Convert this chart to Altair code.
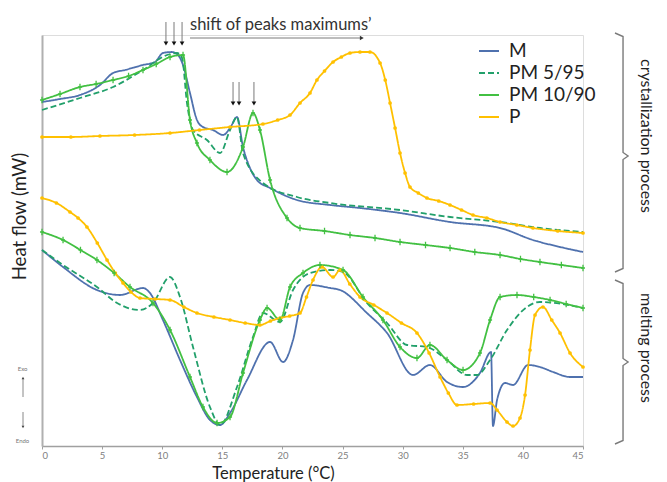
import altair as alt
import pandas as pd

SERIES = ["M", "PM 5/95", "PM 10/90", "P"]
COLORS = ["#4F71AE", "#22A06B", "#42C042", "#FFC000"]
DASHES = [[1, 0], [6, 3], [1, 0], [1, 0]]

# ---- crystallization (cooling) curves: temperature (°C) and heat flow (arbitrary mW offset)
m_cr_t = [0, 1.50, 3.16, 4.82, 5.91, 6.90, 8.40, 9.40, 10.06, 10.81, 11.31, 11.73, 12.31, 12.89,
          13.39, 14.22, 15.06, 15.64, 16.22, 16.72, 17.30, 17.88, 18.97, 21.21, 23.96, 26.45,
          29.78, 33.94, 38.10, 40.84, 43.09, 45.0]
m_cr_h = [34.4, 34.7, 35.1, 36.1, 37.3, 37.6, 38.1, 38.4, 39.3, 39.4, 39.1, 38.1, 35.3, 32.6,
          31.9, 31.6, 31.1, 31.8, 32.9, 29.9, 27.8, 26.6, 25.8, 24.6, 24.1, 23.8,
          23.3, 22.4, 21.8, 20.6, 19.9, 19.4]

pm5_cr_t = [0, 3.16, 5.91, 8.40, 10.40, 11.23, 11.65, 12.06, 12.56, 13.72, 14.81, 15.64, 16.22,
            16.72, 18.38, 21.21, 23.96, 29.78, 33.94, 38.10, 41.42, 45.0]
pm5_cr_h = [33.6, 34.8, 35.9, 37.6, 39.1, 39.3, 38.8, 34.3, 31.6, 30.6, 29.3, 31.6, 32.9,
            29.3, 26.3, 24.9, 24.3, 23.6, 22.9, 22.4, 21.8, 21.4]

pm10_cr_t = [0, 1.5, 3.16, 4.5, 5.91, 7.2, 8.40, 9.5, 10.65, 11.73, 12.31, 12.89, 13.97, 15.39,
             16.72, 17.55, 18.13, 18.97, 20.38, 21.46, 23.5, 25.62, 27.7, 29.78, 31.9, 33.94,
             36.0, 38.10, 39.8, 41.42, 43.2, 45.0]
pm10_cr_h = [34.6, 35.2, 35.9, 36.2, 36.6, 37.0, 37.6, 38.2, 38.9, 39.1, 32.6, 30.3, 28.6, 27.4,
             29.9, 33.3, 31.6, 26.6, 22.8, 21.8, 21.5, 21.1, 20.8, 20.4, 20.1, 19.8,
             19.4, 19.1, 18.7, 18.4, 18.1, 17.8]

p_cr_t = [0, 2.4, 4.82, 7.7, 10.65, 13.1, 15.64, 18.38, 19.6, 20.63, 21.46, 22.29, 22.87, 23.5,
          24.21, 24.9, 25.62, 26.45, 27.28, 28.12, 28.55, 28.95, 29.37, 29.78, 30.2, 30.61,
          31.3, 32.02, 33.0, 33.94, 34.9, 35.85, 37.0, 38.10, 39.5, 40.84, 42.9, 45.0]
p_cr_h = [30.9, 30.9, 31.0, 31.1, 31.3, 31.6, 31.9, 32.2, 32.6, 33.1, 34.3, 35.3, 36.6, 37.5,
          38.4, 38.9, 39.3, 39.4, 39.4, 38.3, 36.6, 34.3, 31.8, 29.3, 27.3, 25.9,
          25.3, 24.8, 24.5, 24.1, 23.6, 23.1, 22.8, 22.4, 22.1, 21.8, 21.5, 21.3]

# ---- melting (heating) curves
m_me_t = [0, 1.75, 4.57, 6.49, 8.40, 8.98, 10.06, 11.48, 12.89, 13.97, 14.81, 15.64, 17.05,
          18.97, 20.05, 20.88, 21.71, 22.29, 23.96, 24.79, 27.03, 28.70, 30.86, 32.27, 33.69,
          35.02, 36.43, 37.35, 37.51, 37.85, 38.51, 39.18, 40.43, 41.42, 42.51, 43.92, 45.0]
m_me_h = [19.6, 17.9, 15.6, 15.1, 15.8, 15.3, 12.6, 8.6, 4.9, 2.6, 2.1, 3.3, 6.6,
          10.4, 8.4, 10.6, 15.3, 16.1, 15.8, 15.6, 13.3, 11.3, 7.1, 8.1, 6.4,
          5.9, 7.3, 9.4, 2.0, 4.6, 6.3, 6.1, 8.1, 7.9, 7.4, 6.9, 6.9]

pm5_me_t = [0, 1.75, 4.57, 6.24, 8.15, 9.23, 10.65, 11.48, 12.56, 13.97, 14.81, 16.22, 17.55,
            18.38, 19.80, 20.88, 22.29, 23.96, 25.04, 27.03, 28.70, 30.36, 32.02, 33.69, 35.35,
            36.18, 37.27, 38.68, 40.34, 41.42, 45.0]
pm5_me_h = [19.6, 18.1, 15.9, 14.3, 13.6, 14.3, 16.9, 14.9, 9.9, 3.9, 2.1, 5.9, 10.9,
            13.3, 12.4, 15.6, 17.3, 17.6, 17.4, 14.3, 12.3, 10.1, 9.9, 8.6, 7.1,
            7.1, 8.6, 11.6, 13.9, 14.4, 13.8]

pm10_me_t = [0, 1.75, 3.2, 4.57, 6.0, 7.32, 9.23, 10.65, 12.31, 13.39, 14.56, 15.64, 16.72,
             18.13, 18.72, 19.80, 20.63, 21.71, 23.12, 25.04, 26.70, 28.36, 29.78, 31.19, 32.27,
             33.69, 35.02, 36.43, 37.27, 38.10, 39.51, 40.9, 42.26, 43.6, 45.0]
pm10_me_h = [21.4, 20.6, 19.6, 18.6, 17.3, 15.9, 14.3, 11.6, 6.9, 3.9, 2.3, 2.9, 7.3,
             12.6, 13.8, 12.6, 15.9, 17.3, 18.1, 17.6, 14.9, 12.6, 9.9, 8.8, 10.1,
             8.6, 7.6, 9.3, 12.6, 14.9, 15.1, 14.9, 14.6, 14.2, 13.8]

p_me_t = [0, 1.2, 2.33, 3.0, 3.74, 4.6, 5.41, 6.1, 6.74, 7.4, 8.15, 9.4, 10.65, 11.8, 12.89,
          14.3, 15.64, 16.9, 18.13, 19.0, 19.80, 20.6, 21.46, 22.0, 22.54, 23.29, 24.21, 24.79,
          25.6, 26.45, 27.6, 28.70, 29.9, 31.19, 32.2, 33.11, 33.8, 34.52, 35.9, 37.27, 37.85,
          38.68, 39.18, 39.76, 40.18, 40.59, 41.01, 41.67, 42.4, 43.09, 43.92, 45.0]
p_me_h = [24.8, 24.3, 23.4, 22.8, 21.9, 20.3, 18.6, 17.3, 16.3, 15.4, 14.8, 14.7, 14.6, 13.9, 13.3,
          12.9, 12.6, 12.3, 12.1, 12.5, 12.8, 13.0, 13.3, 14.9, 16.6, 17.9, 16.9, 17.6,
          16.2, 14.9, 14.1, 13.3, 12.3, 11.3, 9.3, 6.9, 5.3, 4.1, 4.2, 4.3, 3.6,
          2.4, 2.0, 2.8, 5.1, 9.6, 13.1, 13.9, 12.6, 11.3, 9.3, 7.9]

curves = [
    ("M", "crystallization", m_cr_t, m_cr_h),
    ("PM 5/95", "crystallization", pm5_cr_t, pm5_cr_h),
    ("PM 10/90", "crystallization", pm10_cr_t, pm10_cr_h),
    ("P", "crystallization", p_cr_t, p_cr_h),
    ("M", "melting", m_me_t, m_me_h),
    ("PM 5/95", "melting", pm5_me_t, pm5_me_h),
    ("PM 10/90", "melting", pm10_me_t, pm10_me_h),
    ("P", "melting", p_me_t, p_me_h),
]

rows = []
for name, proc, ts, hs in curves:
    for i, (t, h) in enumerate(zip(ts, hs)):
        rows.append({"sample": name, "process": proc, "T": t, "H": h, "i": i})
df = pd.DataFrame(rows)

# ---- annotations
peak_arrow_t = [10.31, 10.98, 11.65, 15.89, 16.39, 17.63]
peak_arrow_top = [42.4, 42.4, 42.4, 36.4, 36.4, 36.4]
peak_arrow_tip = [39.9, 39.9, 39.9, 33.9, 33.9, 33.9]
arrows = pd.DataFrame({"T": peak_arrow_t, "top": peak_arrow_top, "tip": peak_arrow_tip})
arrows["stem_end"] = arrows["tip"] + 0.5
arrows["head"] = arrows["tip"] + 0.35

shift_start, shift_end, shift_h = 12.31, 26.6, 40.8
shift_label = "shift of peaks maximums’"

brace_rows = []
for bid, (top, mid, bot) in enumerate([(41.3, 29.0, 17.4), (16.6, 8.4, 0.2)]):
    pts = [(47.66, top), (48.33, top - 0.35), (48.33, mid + 0.35), (48.75, mid),
           (48.33, mid - 0.35), (48.33, bot + 0.35), (47.66, bot)]
    for k, (t, h) in enumerate(pts):
        brace_rows.append({"brace": bid, "k": k, "T": t, "H": h})
braces = pd.DataFrame(brace_rows)

side_labels = pd.DataFrame({
    "T": [50.2, 50.2],
    "H": [31.0, 9.8],
    "text": ["crystallization process", "melting process"],
})

exo_text = pd.DataFrame({"T": [-1.62, -1.62], "H": [7.7, 0.5], "text": ["Exo", "Endo"]})
exo_arrows = pd.DataFrame({"T": [-1.58, -1.58], "a": [4.9, 3.4], "b": [6.8, 1.9],
                           "head": [6.8, 1.9], "shape": ["triangle-up", "triangle-down"]})

FONT = "Lato"
x_ticks = [v * 2.5 for v in range(19)]

x_enc = alt.X(
    "T:Q",
    scale=alt.Scale(domain=[0, 45], nice=False, zero=False),
    axis=alt.Axis(
        values=x_ticks,
        labelExpr="datum.value % 5 === 0 ? datum.label : ''",
        title="Temperature (°C)",
        grid=False, tickSize=3, tickColor="#a0a0a0", domainColor="#a0a0a0", domainWidth=1.5,
        labelColor="#808080", labelFontSize=9.5, labelPadding=1, labelFont=FONT,
        titleFont=FONT, titleFontSize=16.5, titleFontWeight="normal", titleColor="#222222",
        titleX=231, titleY=32, titleBaseline="alphabetic",
    ),
)
y_enc = alt.Y(
    "H:Q",
    scale=alt.Scale(domain=[0, 41.1], nice=False, zero=False),
    axis=alt.Axis(
        labels=False, ticks=False, grid=False, domainColor="#b0b0b0", domainWidth=2,
        title="Heat flow (mW)", titleFont=FONT, titleFontSize=18.5, titleFontWeight="normal",
        titleColor="#222222", titleX=-23, titleY=181, titleAngle=-90, titleBaseline="middle",
        titleAlign="center",
    ),
)

legend = alt.Legend(
    title=None, orient="none", legendX=436, legendY=5, labelFont=FONT, labelFontSize=19,
    labelColor="#222222", symbolType="stroke", symbolSize=400, symbolStrokeWidth=2,
    rowPadding=1, labelOffset=9,
)

base = alt.Chart(df)
lines = base.mark_line(strokeWidth=1.8, interpolate="monotone").encode(
    x=x_enc,
    y=y_enc,
    color=alt.Color("sample:N", scale=alt.Scale(domain=SERIES, range=COLORS), legend=legend),
    strokeDash=alt.StrokeDash("sample:N", scale=alt.Scale(domain=SERIES, range=DASHES), legend=legend),
    detail="process:N",
    order="i:Q",
)

p_dots = base.transform_filter(alt.datum.sample == "P").mark_point(
    filled=True, size=14, color=COLORS[3], opacity=1
).encode(x="T:Q", y="H:Q")

pm10_marks = base.transform_filter(alt.datum.sample == "PM 10/90").mark_point(
    shape="M0,-1V1M-0.6,0H0.6", filled=False, size=45, strokeWidth=1.3, color=COLORS[2], opacity=1
).encode(x="T:Q", y="H:Q")

ann = alt.Chart(arrows)
arrow_stems = ann.mark_rule(color="#7a7a7a", strokeWidth=1).encode(x="T:Q", y="top:Q", y2="stem_end:Q")
arrow_heads = ann.mark_point(shape="triangle-down", filled=True, size=22, color="#111111", opacity=1).encode(
    x="T:Q", y="head:Q")

shift_df = pd.DataFrame({"a": [shift_start], "b": [shift_end], "H": [shift_h], "text": [shift_label]})
shift_line = alt.Chart(shift_df).mark_rule(color="#7a7a7a", strokeWidth=1).encode(x="a:Q", x2="b:Q", y="H:Q")
shift_head = alt.Chart(shift_df).mark_point(shape="triangle-right", filled=True, size=20,
                                             color="#333333", opacity=1).encode(x="b:Q", y="H:Q")
shift_text = alt.Chart(shift_df).mark_text(align="left", baseline="middle", font=FONT, fontSize=16.5,
                                           color="#333333", dy=-13).encode(x="a:Q", y="H:Q", text="text:N")

brace_lines = alt.Chart(braces).mark_line(color="#7a7a7a", strokeWidth=1.4).encode(
    x="T:Q", y="H:Q", detail="brace:N", order="k:Q")
side_text = alt.Chart(side_labels).mark_text(angle=90, align="center", baseline="middle", font=FONT,
                                              fontSize=16, color="#222222").encode(
    x="T:Q", y="H:Q", text="text:N")

exo_labels = alt.Chart(exo_text).mark_text(font=FONT, fontSize=6, color="#777777").encode(
    x="T:Q", y="H:Q", text="text:N")
exo_stems = alt.Chart(exo_arrows).mark_rule(color="#888888", strokeWidth=1).encode(x="T:Q", y="a:Q", y2="b:Q")
exo_heads = alt.Chart(exo_arrows).mark_point(filled=True, size=8, color="#444444", opacity=1).encode(
    x="T:Q", y="head:Q", shape=alt.Shape("shape:N", scale=None, legend=None))

chart = alt.layer(
    lines, p_dots, pm10_marks,
    arrow_stems, arrow_heads, shift_line, shift_head, shift_text,
    brace_lines, side_text, exo_labels, exo_stems, exo_heads,
).properties(
    width=541, height=411,
    padding={"left": 42, "top": 35, "right": 84, "bottom": 36},
    autosize=alt.AutoSizeParams(type="none"),
).configure_view(stroke=None).configure(font=FONT)

chart.save("out.html", embed_options={"renderer": "svg", "actions": False})
